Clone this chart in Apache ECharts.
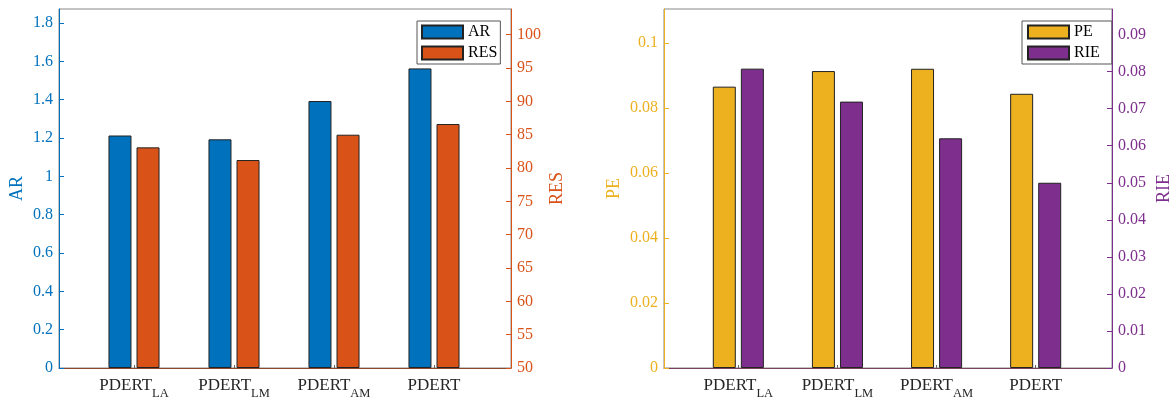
<!DOCTYPE html>
<html>
<head>
<meta charset="utf-8">
<script src="https://cdn.jsdelivr.net/npm/echarts@6/dist/echarts.min.js"></script>
<style>
  html, body { margin: 0; padding: 0; background: #fff; }
  #main { width: 1176px; height: 398px; }
</style>
</head>
<body>
<div id="main"></div>
<script>
// categories: [name, subscript]
const categories = [['PDERT', 'LA'], ['PDERT', 'LM'], ['PDERT', 'AM'], ['PDERT', '']];
const ar = [1.213, 1.193, 1.393, 1.563];
const res = [83.1, 81.2, 85.0, 86.6];
const pe = [0.0866, 0.0914, 0.0921, 0.0844];
const rie = [0.0808, 0.0719, 0.0620, 0.0500];

const FONT = '"Liberation Serif", "DejaVu Serif", serif';
const C_AR = '#0072BD', C_RES = '#D95319', C_PE = '#EDB120', C_RIE = '#7E2F8E';

const pairs = arr => arr.map((v, i) => [i + 1, v]);

function xAxisCfg(gridIndex, lineColor) {
  return {
    type: 'value', gridIndex: gridIndex, min: 0.25, max: 4.77,
    splitLine: { show: false },
    axisLine: { show: true, onZero: false, lineStyle: { color: lineColor, width: 1 } },
    axisTick: { show: true, inside: true, length: 3, customValues: [1, 2, 3, 4], lineStyle: { color: '#666' } },
    axisLabel: {
      customValues: [1, 2, 3, 4],
      margin: 9,
      formatter: v => {
        const c = categories[Math.round(v) - 1];
        if (!c) return '';
        return '{m|' + c[0] + '}{s|' + c[1] + '}';
      },
      rich: {
        m: { fontFamily: FONT, fontSize: 17, color: '#262626', verticalAlign: 'top', lineHeight: 18 },
        s: { fontFamily: FONT, fontSize: 12.5, color: '#262626', verticalAlign: 'bottom', lineHeight: 23 }
      }
    }
  };
}

function yAxisCfg(gridIndex, pos, color, name, min, max, interval, gap) {
  return {
    type: 'value', gridIndex: gridIndex, position: pos,
    min: min, max: max, interval: interval, startValue: min,
    name: name, nameLocation: 'middle', nameRotate: 90, nameGap: gap,
    nameTextStyle: { fontFamily: FONT, fontSize: 18, color: color },
    splitLine: { show: false },
    axisLine: { show: true, lineStyle: { color: color, width: 1 } },
    axisTick: { show: true, inside: true, length: 5, lineStyle: { color: color } },
    axisLabel: { fontFamily: FONT, fontSize: 16, color: color, margin: 6, showMaxLabel: false }
  };
}

function barSeries(name, color, xi, yi, data) {
  return {
    name: name, type: 'bar', xAxisIndex: xi, yAxisIndex: yi,
    data: pairs(data), barWidth: 23, barGap: '22%',
    itemStyle: { color: color, borderColor: '#222', borderWidth: 1 }
  };
}

const legendCommon = {
  orient: 'vertical', icon: 'rect', itemWidth: 41, itemHeight: 13, itemGap: 5,
  backgroundColor: '#fff', borderColor: '#555', borderWidth: 1, borderRadius: 0,
  textStyle: { fontFamily: FONT, fontSize: 16, color: '#000', padding: [0, 0, 0, 0] }
};

const gridCommon = {
  top: 9, bottom: 30, show: true, borderColor: '#888', borderWidth: 1,
  backgroundColor: 'transparent', containLabel: false, outerBoundsMode: 'none'
};

const chart = echarts.init(document.getElementById('main'), null, { renderer: 'canvas' });
chart.setOption({
  animation: false,
  backgroundColor: '#fff',
  grid: [
    Object.assign({}, gridCommon, { left: 59, right: 665 }),
    Object.assign({}, gridCommon, { left: 664, right: 64 })
  ],
  legend: [
    Object.assign({}, legendCommon, { data: ['AR', 'RES'], left: 417, top: 21, padding: [3, 3, 3, 4] }),
    Object.assign({}, legendCommon, { data: ['PE', 'RIE'], left: 1022, top: 21, padding: [3, 12, 3, 5] })
  ],
  xAxis: [xAxisCfg(0, '#8a4a30'), xAxisCfg(1, '#7a4060')],
  yAxis: [
    yAxisCfg(0, 'left', C_AR, 'AR', 0, 1.873, 0.2, 33),
    yAxisCfg(0, 'right', C_RES, 'RES', 50, 103.86, 5, 37),
    yAxisCfg(1, 'left', C_PE, 'PE', 0, 0.1105, 0.02, 41),
    yAxisCfg(1, 'right', C_RIE, 'RIE', 0, 0.0969, 0.01, 43)
  ],
  series: [
    barSeries('AR', C_AR, 0, 0, ar),
    barSeries('RES', C_RES, 0, 1, res),
    barSeries('PE', C_PE, 1, 2, pe),
    barSeries('RIE', C_RIE, 1, 3, rie)
  ]
});
</script>
</body>
</html>
